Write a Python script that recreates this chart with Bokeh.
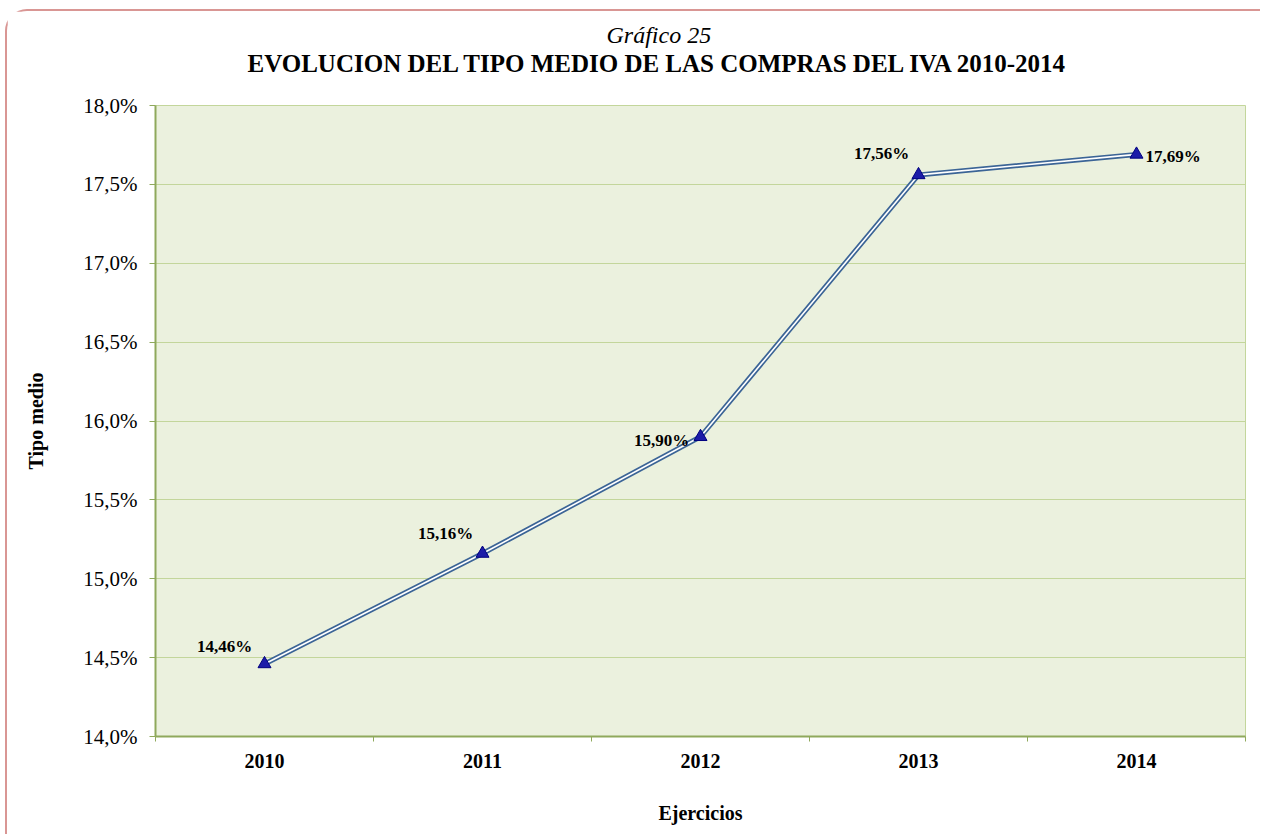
from bokeh.plotting import figure
from bokeh.models import ColumnDataSource, FixedTicker, Range1d, Title
from bokeh.core.properties import value
from bokeh.embed import file_html
from bokeh.resources import INLINE

years = ["2010", "2011", "2012", "2013", "2014"]
tipo_medio = [14.46, 15.16, 15.90, 17.56, 17.69]
point_labels = ["14,46%", "15,16%", "15,90%", "17,56%", "17,69%"]
y_ticks = [14.0, 14.5, 15.0, 15.5, 16.0, 16.5, 17.0, 17.5, 18.0]
y_tick_labels = ["14,0%", "14,5%", "15,0%", "15,5%", "16,0%", "16,5%", "17,0%", "17,5%", "18,0%"]
chart_number = "Gráfico 25"
chart_title = "EVOLUCION DEL TIPO MEDIO DE LAS COMPRAS DEL IVA 2010-2014"

# label placement (style)
lab_dx = [-40, -37, -39, -37, 9]
lab_dy = [-17, -20, 4, -21, 2]
lab_align = ["center", "center", "center", "center", "left"]

SERIF = "'Liberation Serif', 'Times New Roman', serif"
xs = [i + 0.5 for i in range(len(years))]

src = ColumnDataSource(dict(x=xs, y=tipo_medio, lab=point_labels,
                            dx=lab_dx, dy=lab_dy, al=lab_align))

p = figure(width=1255, height=825, output_backend="svg", toolbar_location=None,
           x_range=Range1d(0, len(years)), y_range=Range1d(14.0, 18.0),
           min_border_left=148, min_border_right=17, min_border_top=94, min_border_bottom=100)
p.styles = {"border-left": "2px solid #D99694", "border-top": "2px solid #D99694",
            "border-top-left-radius": "22px", "margin-left": "5px", "margin-top": "9px"}

p.background_fill_color = "#EBF1DE"
p.border_fill_color = "white"
p.outline_line_color = "#C3D69B"
p.outline_line_width = 1

# titles
p.title.text = chart_number
p.title.text_font = SERIF
p.title.text_font_size = "24px"
p.title.text_font_style = "italic"
p.title.text_color = "black"
p.title.align = "left"
p.title.offset = 451
p.title.standoff = 0
spacer = Title(text=" ", text_font_size="10px", standoff=16)
p.add_layout(spacer, "above")
t2 = Title(text=chart_title, text_font=SERIF, text_font_size="25px", text_font_style="bold",
           text_color="black", align="left", offset=92, standoff=0)
p.add_layout(t2, "above")

# axes
ax_col = "#8FA95C"
p.xaxis.ticker = FixedTicker(ticks=xs, minor_ticks=list(range(len(years) + 1)))
p.xaxis.major_label_overrides = {x: y for x, y in zip(xs, years)}
p.xaxis.major_tick_out = 0
p.xaxis.major_tick_in = 0
p.xaxis.minor_tick_out = 5
p.xaxis.minor_tick_in = 0
p.xaxis.minor_tick_line_color = ax_col
p.xaxis.axis_line_color = ax_col
p.xaxis.axis_line_width = 2
p.xaxis.major_label_text_font = SERIF
p.xaxis.major_label_text_font_size = "20px"
p.xaxis.major_label_text_font_style = "bold"
p.xaxis.major_label_text_color = "black"
p.xaxis.major_label_standoff = 12
p.xaxis.axis_label = "Ejercicios"
p.xaxis.axis_label_text_font = SERIF
p.xaxis.axis_label_text_font_size = "20px"
p.xaxis.axis_label_text_font_style = "bold"
p.xaxis.axis_label_text_color = "black"
p.xaxis.axis_label_standoff = 31

p.yaxis.ticker = FixedTicker(ticks=y_ticks)
p.yaxis.major_label_overrides = {t: l for t, l in zip(y_ticks, y_tick_labels)}
p.yaxis.minor_tick_line_color = None
p.yaxis.major_tick_out = 6
p.yaxis.major_tick_in = 0
p.yaxis.major_tick_line_color = ax_col
p.yaxis.axis_line_color = ax_col
p.yaxis.axis_line_width = 2
p.yaxis.major_label_text_font = SERIF
p.yaxis.major_label_text_font_size = "21px"
p.yaxis.major_label_text_color = "black"
p.yaxis.major_label_standoff = 12
p.yaxis.axis_label = "Tipo medio"
p.yaxis.axis_label_text_font = SERIF
p.yaxis.axis_label_text_font_size = "20px"
p.yaxis.axis_label_text_font_style = "bold"
p.yaxis.axis_label_text_color = "black"
p.yaxis.axis_label_standoff = 33

p.xgrid.grid_line_color = None
p.ygrid.grid_line_color = "#C3D69B"
p.ygrid.grid_line_width = 1

# double line
p.line("x", "y", source=src, line_color="#3B6496", line_width=5)
p.line("x", "y", source=src, line_color="white", line_width=1.6)
p.scatter("x", "y", source=src, marker="triangle", size=13,
          fill_color="#1C1CA8", line_color="#000080", line_width=1)

p.text("x", "y", text="lab", source=src, x_offset="dx", y_offset="dy",
       text_align="al", text_baseline="middle",
       text_font=value(SERIF), text_font_size="17px", text_font_style="bold",
       text_color="black")

open("out.html", "w").write(file_html(p, INLINE))
